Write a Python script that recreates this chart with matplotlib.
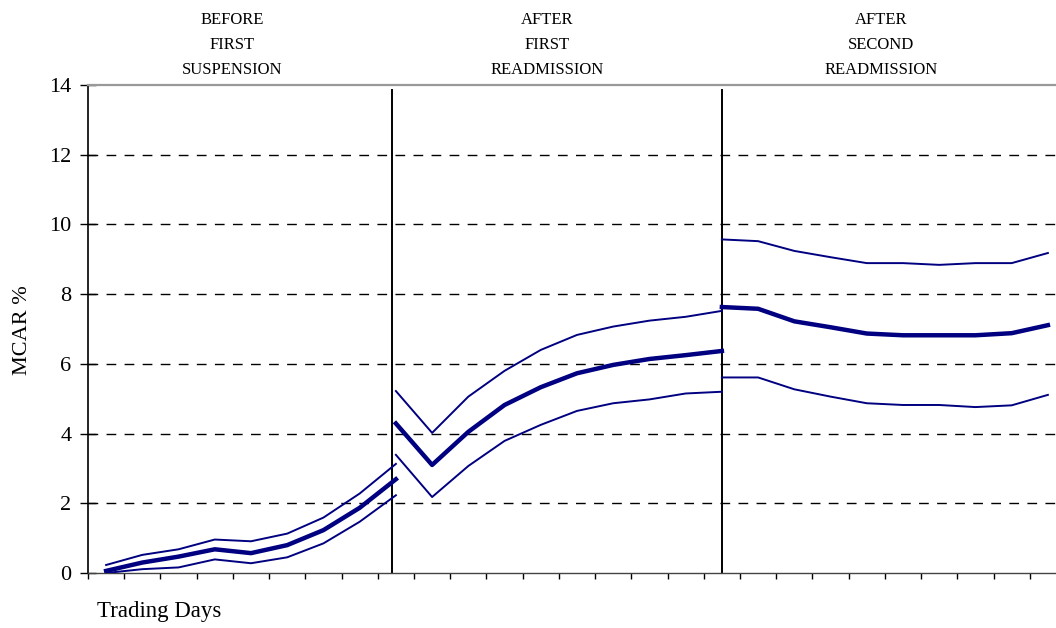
import matplotlib.pyplot as plt
import numpy as np

plt.rcParams['font.family'] = ['Liberation Serif', 'DejaVu Serif']

# trading-day positions for each window (category index on the x axis)
days_before = np.arange(0, 9)
days_first = np.arange(8, 18)
days_second = np.arange(17, 27)

# MCAR % with lower / upper bands
before_mid = [0.06, 0.30, 0.47, 0.68, 0.57, 0.80, 1.23, 1.87, 2.69]
before_up = [0.23, 0.52, 0.68, 0.96, 0.91, 1.13, 1.59, 2.28, 3.13]
before_lo = [0.00, 0.11, 0.16, 0.39, 0.28, 0.45, 0.85, 1.47, 2.23]

first_mid = [4.29, 3.10, 4.05, 4.82, 5.33, 5.73, 5.97, 6.14, 6.25, 6.37]
first_up = [5.22, 4.02, 5.06, 5.80, 6.40, 6.83, 7.07, 7.24, 7.35, 7.52]
first_lo = [3.39, 2.18, 3.07, 3.79, 4.25, 4.65, 4.87, 4.98, 5.15, 5.20]

second_mid = [7.63, 7.58, 7.22, 7.05, 6.87, 6.82, 6.82, 6.82, 6.88, 7.11]
second_up = [9.57, 9.52, 9.24, 9.06, 8.89, 8.89, 8.84, 8.89, 8.89, 9.18]
second_lo = [5.61, 5.61, 5.27, 5.06, 4.87, 4.82, 4.82, 4.76, 4.81, 5.11]

headers = ["BEFORE\nFIRST\nSUSPENSION",
           "AFTER\nFIRST\nREADMISSION",
           "AFTER\nSECOND\nREADMISSION"]
header_px = [232, 547, 881]
dividers = [7.9, 16.99]
yticks = [0, 2, 4, 6, 8, 10, 12, 14]

W, H = 1056, 628
fig = plt.figure(figsize=(W / 100, H / 100), dpi=100)
ax = fig.add_axes([88 / W, (H - 573) / H, (1066 - 88) / W, (573 - 85) / H])

navy = '#000080'
for x, mid, up, lo in [(days_before, before_mid, before_up, before_lo),
                       (days_first, first_mid, first_up, first_lo),
                       (days_second, second_mid, second_up, second_lo)]:
    ax.plot(x, up, color=navy, lw=1.4, zorder=3)
    ax.plot(x, lo, color=navy, lw=1.4, zorder=3)
    ax.plot(x, mid, color=navy, lw=3.2, zorder=4)

ax.set_xlim(-0.5, 26.5)
ax.set_ylim(0, 14)

# dashed horizontal grid
for y in yticks[1:-1]:
    ax.axhline(y, color='black', lw=1.0, ls=(0, (7, 6)), zorder=1)

for d in dividers:
    ax.plot([d, d], [0, 13.85], color='black', lw=1.4, zorder=2)

ax.set_yticks(yticks)
ax.set_xticks(np.arange(-0.5, 27, 1))
ax.set_xticklabels([])
ax.tick_params(axis='y', direction='inout', length=12, width=1, labelsize=16, pad=6)
ax.tick_params(axis='x', direction='out', length=4, width=1)

ax.spines['right'].set_visible(False)
ax.spines['top'].set_color('#999999')
ax.spines['top'].set_linewidth(1.6)
ax.spines['left'].set_linewidth(1.2)
ax.spines['bottom'].set_color('#444444')
ax.spines['bottom'].set_linewidth(1.0)

for hx, txt in zip(header_px, headers):
    fig.text(hx / W, 1 - 45 / H, txt, ha='center', va='center',
             fontsize=12, linespacing=1.78)

fig.text(97 / W, 1 - 611 / H, "Trading Days", fontsize=16.5, ha='left', va='center')
fig.text(23 / W, 1 - 330 / H, "MCAR %", fontsize=16, rotation=90,
         ha='center', va='center')

fig.savefig('out.png', dpi=100)
